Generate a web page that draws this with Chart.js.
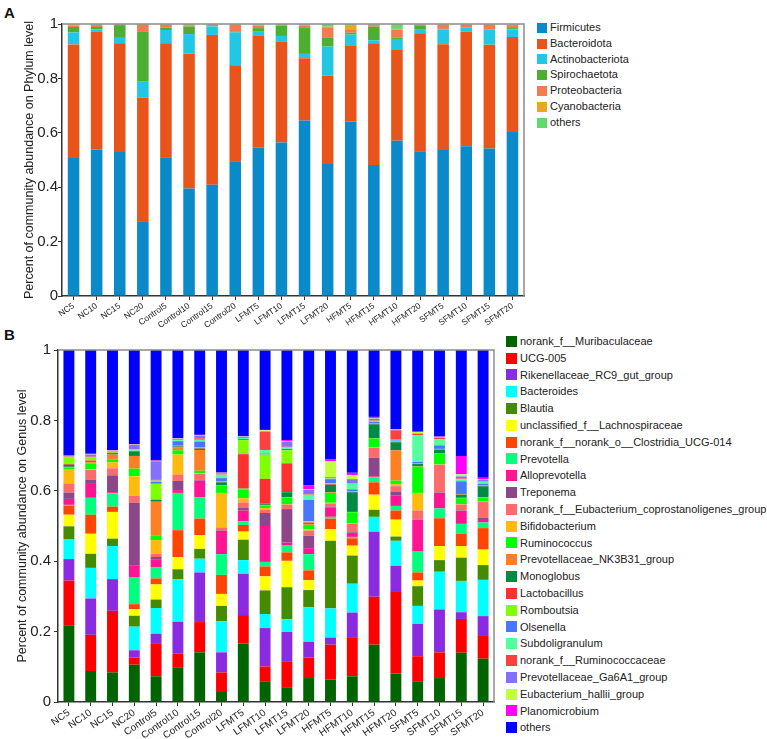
<!DOCTYPE html>
<html>
<head>
<meta charset="utf-8">
<script src="https://cdn.jsdelivr.net/npm/chart.js@4.4.1/dist/chart.umd.min.js"></script>
<style>
  body { margin: 0; background: #fff; font-family: "Liberation Sans", Arial, sans-serif; }
  #wrap { position: relative; width: 767px; height: 739px; overflow: hidden; }
  canvas { position: absolute; left: 0; }
  .panel { position: absolute; font-weight: bold; font-size: 15px; color: #111; }
  .legend { position: absolute; font-size: 11px; color: #222; }
  .legend div { position: relative; white-space: nowrap; }
  .legend span { position: absolute; left: 0; }
</style>
</head>
<body>
<div id="wrap">
  <div class="panel" style="left:4px; top:4px;">A</div>
  <div class="panel" style="left:4px; top:326px;">B</div>
  <canvas id="phylum" width="530" height="330" style="top:0px"></canvas>
  <canvas id="genus" width="500" height="409" style="top:330px"></canvas>
  <div class="legend" id="legendA" style="left:537px; top:20px;"></div>
  <div class="legend" id="legendB" style="left:506px; top:333px;"></div>
</div>
<script>
// ---- Panel A: phylum level ----
const samplesA = ["NC5", "NC10", "NC15", "NC20", "Control5", "Control10", "Control15", "Control20",
  "LFMT5", "LFMT10", "LFMT15", "LFMT20", "HFMT5", "HFMT15", "HFMT10", "HFMT20",
  "SFMT5", "SFMT10", "SFMT15", "SFMT20"];

const firmicutes = [.507, .539, .529, .275, .510, .395, .409, .495, .545, .564, .645, .485, .642, .482, .571, .532, .537, .551, .542, .603];
const bacteroidota = [.418, .433, .400, .455, .419, .497, .551, .353, .411, .370, .229, .326, .277, .447, .333, .434, .389, .420, .382, .349];
const actinobacteriota = [.044, .008, .020, .060, .049, .071, .031, .121, .018, .022, .016, .106, .042, .011, .041, .013, .054, .016, .055, .028];
const spirochaetota = [.020, .009, .047, .181, .009, .028, .001, .002, .011, .038, .095, .034, .007, .050, .005, .016, .002, .002, .002, .005];
const proteobacteria = [.006, .007, .002, .027, .010, .004, .006, .027, .009, .004, .008, .037, .010, .006, .030, .003, .015, .009, .017, .011];
const cyanobacteria = [.003, .001, .001, .001, .002, .004, .001, .001, .003, .001, .004, .002, .018, .002, .002, .001, .002, .001, .001, .002];
const othersA = [.002, .003, .001, .001, .001, .001, .001, .001, .003, .001, .003, .010, .004, .002, .018, .001, .001, .001, .001, .002];

const phylumNames = ["Firmicutes", "Bacteroidota", "Actinobacteriota", "Spirochaetota", "Proteobacteria", "Cyanobacteria", "others"];
const phylumColors = ["#0a8ac8", "#e9541a", "#22c7e4", "#4daf32", "#f47a50", "#e8a820", "#5edb6c"];
const phylumSeries = [firmicutes, bacteroidota, actinobacteriota, spirochaetota, proteobacteria, cyanobacteria, othersA];

// ---- Panel B: genus level ----
const samplesB = ["NC5", "NC10", "NC15", "NC20", "Control5", "Control10", "Control15", "Control20",
  "LFMT5", "LFMT10", "LFMT15", "LFMT20", "HFMT5", "HFMT10", "HFMT15", "HFMT20",
  "SFMT5", "SFMT10", "SFMT15", "SFMT20"];

const muribaculaceae = [.218, .088, .084, .106, .073, .097, .141, .031, .166, .059, .042, .068, .064, .073, .163, .081, .059, .068, .140, .123];
const ucg005 = [.127, .103, .175, .020, .092, .040, .086, .053, .081, .042, .072, .058, .099, .109, .136, .234, .071, .073, .096, .067];
const rikenellaceae = [.061, .103, .090, .021, .029, .091, .141, .057, .117, .109, .085, .045, .020, .072, .185, .072, .092, .122, .019, .054];
const bacteroides = [.057, .087, .094, .067, .073, .121, .039, .088, .039, .040, .036, .098, .083, .082, .042, .071, .051, .107, .089, .103];
const blautia = [.036, .040, .021, .031, .024, .028, .028, .044, .058, .067, .091, .049, .192, .080, .020, .012, .056, .033, .066, .042];
const lachnospiraceae = [.033, .057, .076, .019, .043, .035, .039, .034, .023, .040, .075, .028, .033, .028, .043, .048, .016, .040, .033, .044];
const clostridiaUCG014 = [.025, .054, .015, .014, .017, .076, .047, .054, .019, .028, .024, .028, .030, .021, .035, .026, .023, .079, .035, .061];
const prevotella = [.003, .048, .038, .077, .031, .106, .061, .059, .010, .013, .021, .046, .005, .004, .014, .013, .061, .028, .028, .016];
const alloprevotella = [.017, .042, .003, .032, .022, .008, .047, .067, .031, .102, .007, .017, .027, .011, .003, .029, .088, .044, .037, .010];
const treponema = [.018, .010, .048, .179, .008, .026, .002, .001, .007, .037, .095, .035, .002, .002, .053, .012, .001, .001, .001, .003];
const coprostanoligenes = [.026, .027, .020, .020, .009, .018, .017, .008, .016, .009, .013, .015, .009, .024, .028, .015, .026, .079, .017, .045];
const bifidobacterium = [.039, .002, .017, .055, .039, .057, .002, .098, .012, .005, .001, .004, .002, .001, .001, .006, .050, .001, .001, .001];
const ruminococcus = [.006, .017, .007, .022, .012, .012, .007, .020, .024, .007, .018, .012, .028, .032, .026, .010, .075, .030, .017, .012];
const nk3b31 = [.002, .003, .015, .036, .097, .008, .059, .002, .003, .002, .002, .002, .002, .001, .001, .086, .001, .001, .001, .001];
const monoglobus = [.006, .003, .004, .013, .005, .003, .004, .008, .001, .004, .014, .003, .021, .056, .039, .023, .006, .011, .009, .031];
const lactobacillus = [.002, .002, .001, .001, .001, .003, .002, .001, .097, .070, .082, .002, .002, .001, .002, .001, .001, .001, .001, .001];
const romboutsia = [.018, .008, .002, .001, .045, .001, .001, .001, .040, .069, .037, .003, .002, .001, .001, .001, .001, .001, .001, .001];
const olsenella = [.001, .001, .001, .001, .006, .011, .017, .010, .003, .003, .004, .061, .012, .006, .004, .003, .004, .010, .036, .005];
const subdoligranulum = [.001, .001, .001, .002, .003, .003, .005, .010, .003, .010, .004, .015, .002, .016, .003, .002, .076, .018, .006, .006];
const ruminococcaceae = [.001, .001, .001, .001, .002, .002, .004, .002, .002, .052, .002, .002, .002, .001, .002, .027, .004, .004, .002, .002];
const ga6a1 = [.001, .006, .001, .012, .053, .002, .008, .002, .002, .001, .015, .012, .002, .012, .004, .001, .001, .001, .006, .004];
const hallii = [.001, .001, .001, .001, .001, .001, .001, .001, .001, .003, .001, .002, .045, .012, .002, .001, .004, .001, .006, .001];
const planomicrobium = [.001, .001, .001, .001, .001, .001, .001, .001, .001, .001, .003, .010, .005, .006, .003, .001, .001, .001, .052, .004];
const othersB = [.300, .295, .284, .268, .314, .250, .241, .348, .244, .227, .256, .385, .311, .349, .190, .225, .232, .246, .301, .363];

const genusNames = ["norank_f__Muribaculaceae", "UCG-005", "Rikenellaceae_RC9_gut_group", "Bacteroides", "Blautia",
  "unclassified_f__Lachnospiraceae", "norank_f__norank_o__Clostridia_UCG-014", "Prevotella", "Alloprevotella", "Treponema",
  "norank_f__Eubacterium_coprostanoligenes_group", "Bifidobacterium", "Ruminococcus", "Prevotellaceae_NK3B31_group",
  "Monoglobus", "Lactobacillus", "Romboutsia", "Olsenella", "Subdoligranulum", "norank_f__Ruminococcaceae",
  "Prevotellaceae_Ga6A1_group", "Eubacterium_hallii_group", "Planomicrobium", "others"];
const genusColors = ["#006400", "#ff0000", "#8a2be2", "#00ffff", "#458b00", "#ffff00", "#ff4500", "#00ff7f",
  "#ff1493", "#8b4789", "#ff6a6a", "#ffb90f", "#00ff00", "#ff7f24", "#008b45", "#ff3030", "#7fff00",
  "#4876ff", "#54ff9f", "#ff4040", "#8470ff", "#c0ff3e", "#ff00ff", "#0000ff"];
const genusSeries = [muribaculaceae, ucg005, rikenellaceae, bacteroides, blautia, lachnospiraceae, clostridiaUCG014,
  prevotella, alloprevotella, treponema, coprostanoligenes, bifidobacterium, ruminococcus, nk3b31, monoglobus,
  lactobacillus, romboutsia, olsenella, subdoligranulum, ruminococcaceae, ga6a1, hallii, planomicrobium, othersB];

const FONT = "'Liberation Sans', Arial, sans-serif";

// grey line on top and right of the plot
const framePlugin = {
  id: 'frame',
  afterDraw(chart) {
    const ctx = chart.ctx;
    const a = chart.chartArea;
    ctx.save();
    ctx.strokeStyle = '#8c8c8c';
    ctx.lineWidth = 1.5;
    ctx.beginPath();
    ctx.moveTo(a.left, a.top);
    ctx.lineTo(a.right, a.top);
    ctx.lineTo(a.right, a.bottom);
    ctx.stroke();
    ctx.restore();
  }
};

function makeChart(id, labels, names, colors, series, opts) {
  const datasets = series.map((vals, i) => ({
    label: names[i],
    data: vals,
    backgroundColor: colors[i],
    borderWidth: 0,
    barPercentage: 1,
    categoryPercentage: 0.5
  }));
  return new Chart(document.getElementById(id), {
    type: 'bar',
    data: { labels: labels, datasets: datasets },
    plugins: [framePlugin],
    options: {
      responsive: false,
      animation: false,
      devicePixelRatio: 1,
      layout: { padding: { top: opts.top, right: 6, left: 0, bottom: 0 } },
      plugins: { legend: { display: false }, tooltip: { enabled: false } },
      scales: {
        x: {
          stacked: true,
          grid: { display: true, drawOnChartArea: false, tickLength: 4, color: '#333', offset: false },
          border: { color: '#333', width: 1.5 },
          ticks: { autoSkip: false, font: { family: FONT, size: opts.xfont }, color: '#222', minRotation: 35, maxRotation: 35, padding: 1 },
          afterFit: (axis) => { axis.height = opts.xh; }
        },
        y: {
          stacked: true,
          min: 0,
          max: 1,
          grid: { display: true, drawOnChartArea: false, tickLength: 4, color: '#333' },
          border: { color: '#333', width: 1.5 },
          ticks: {
            stepSize: 0.2,
            font: { family: FONT, size: 15 },
            color: '#222',
            padding: opts.tickPad,
            callback: (v) => String(Number(v.toFixed(1)))
          },
          title: {
            display: true,
            text: opts.title,
            font: { family: FONT, size: 12.5 },
            color: '#222',
            padding: { top: opts.titlePad, bottom: 0 }
          },
          afterFit: (axis) => { axis.width = opts.yw; }
        }
      }
    }
  });
}

makeChart('phylum', samplesA, phylumNames, phylumColors, phylumSeries,
  { top: 24, xh: 34, yw: 62, xfont: 8.5, tickPad: 0, title: 'Percent of community abundance on Phylum level', titlePad: 22 });
makeChart('genus', samplesB, genusNames, genusColors, genusSeries,
  { top: 20, xh: 37, yw: 58, xfont: 10, tickPad: 3, title: 'Percent of community abundance on Genus level', titlePad: 15 });

function buildLegend(id, names, colors, step, box) {
  let out = "";
  for (let i = 0; i < names.length; i++) {
    out += `<div style="height:${step}px; line-height:${step}px; padding-left:${box + 3}px">
      <span style="top:${(step - box) / 2}px; width:${box}px; height:${box}px; background:${colors[i]}"></span>${names[i]}</div>`;
  }
  document.getElementById(id).innerHTML = out;
}
buildLegend('legendA', phylumNames, phylumColors, 15.8, 10);
buildLegend('legendB', genusNames, genusColors, 16.8, 11);
</script>
</body>
</html>
